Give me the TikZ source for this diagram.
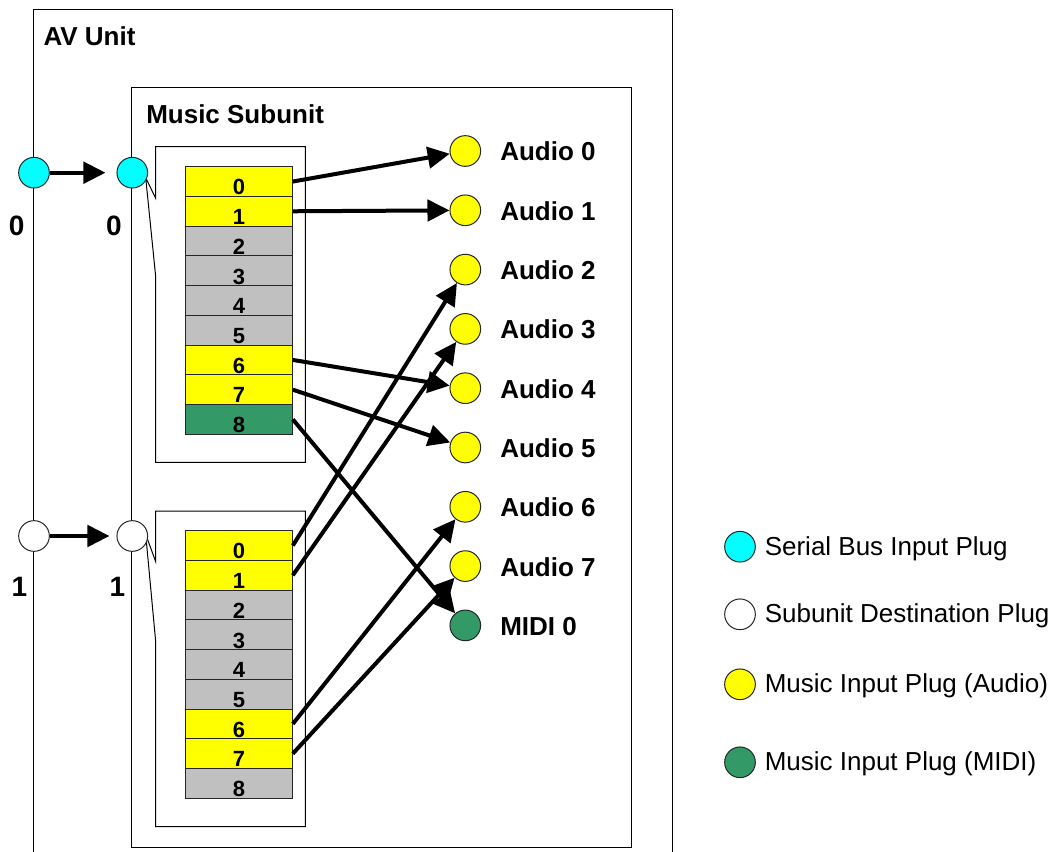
\documentclass[tikz,border=0pt]{standalone}
\usepackage{fontspec}
\setmainfont{Liberation Sans}
\usetikzlibrary{arrows.meta}
\definecolor{plugyellow}{RGB}{255,255,0}
\definecolor{pluggray}{RGB}{192,192,192}
\definecolor{midigreen}{RGB}{51,153,102}
\definecolor{buscyan}{RGB}{0,255,255}

\begin{document}
\begin{tikzpicture}[x=0.75pt,y=-0.75pt,
  frame/.style={draw=black, line width=0.75pt},
  cell/.style={draw=black!85, line width=0.75pt, minimum width=79.95pt,
    minimum height=22.3pt, inner sep=0pt, text height=20pt, text depth=0pt,
    font=\fontsize{16.5}{18}\selectfont\bfseries},
  plug/.style={circle, draw=black!85, line width=0.75pt, minimum size=23pt, inner sep=0pt},
  bigbold/.style={font=\fontsize{19.5}{22}\selectfont\bfseries, inner sep=0pt},
  plugnum/.style={font=\fontsize{21}{24}\selectfont\bfseries, inner sep=0pt, anchor=base},
  legendtxt/.style={font=\fontsize{19.5}{22}\selectfont, inner sep=0pt, anchor=base west},
  link/.style={line width=3pt, -{Triangle[length=16.5pt,width=16pt]}},
]
\useasboundingbox (0,0) rectangle (1056,852);
\clip (0,0) rectangle (1056,852);

% AV unit frame (runs off the bottom edge)
\draw[frame] (33,870) -- (33,9.3) -- (672,9.3) -- (672,870);
\node[bigbold, anchor=base west] (avlabel) at (43.3,45.7) {AV Unit};

% Music subunit frame
\draw[frame] (131.7,87.7) rectangle (631.3,847.3);
\node[bigbold, anchor=base west] (mslabel) at (146,124) {Music Subunit};

% Callout frames around the two plug stacks
\draw[frame] (155.7,198.3) -- (155.7,146.7) -- (305.3,146.7) -- (305.3,462.3)
  -- (155.7,462.3) -- (155.7,276.7) -- (145.7,177.7) -- cycle;
\draw[frame] (155.7,561.7) -- (155.7,511) -- (305.3,511) -- (305.3,826.7)
  -- (155.7,826.7) -- (155.7,641.7) -- (145.7,534.3) -- cycle;

% Stream cells of destination plug 0
\foreach \i/\c in {0/plugyellow,1/plugyellow,2/pluggray,3/pluggray,4/pluggray,
                   5/pluggray,6/plugyellow,7/plugyellow,8/midigreen}{
  \node[cell, fill=\c] (t\i) at (239,{181.55+29.73*\i}) {\i};
}
% Stream cells of destination plug 1
\foreach \i/\c in {0/plugyellow,1/plugyellow,2/pluggray,3/pluggray,4/pluggray,
                   5/pluggray,6/plugyellow,7/plugyellow,8/pluggray}{
  \node[cell, fill=\c] (b\i) at (239,{545.55+29.73*\i}) {\i};
}

% Serial bus input plugs and subunit destination plugs
\node[plug, fill=buscyan] (s0) at (34,172.7) {};
\node[plug, fill=buscyan] (d0) at (132.3,172.7) {};
\node[plug, fill=white] (s1) at (34,536) {};
\node[plug, fill=white] (d1) at (132.3,536) {};
\node[plugnum] (s0n) at (16.7,235.5) {0};
\node[plugnum] (d0n) at (114,235.5) {0};
\node[plugnum] (s1n) at (19.5,596.5) {1};
\node[plugnum] (d1n) at (117.3,596.5) {1};
\draw[link, shorten >=8.25pt] (s0) -- (d0);
\draw[link, shorten >=5.25pt] (s1) -- (d1);

% Music input plugs
\foreach \k/\c/\t in {0/plugyellow/Audio 0,1/plugyellow/Audio 1,2/plugyellow/Audio 2,
                      3/plugyellow/Audio 3,4/plugyellow/Audio 4,5/plugyellow/Audio 5,
                      6/plugyellow/Audio 6,7/plugyellow/Audio 7,8/midigreen/MIDI 0}{
  \node[plug, fill=\c] (m\k) at (465.3,{151+59.3*\k}) {};
  \node[bigbold, anchor=base west] (m\k l) at (500,{161+59.3*\k}) {\t};
}

% Stream routing
\draw[link] (t0.east) -- (m0);
\draw[link] (t1.east) -- (m1);
\draw[link] (t6.east) -- (m4);
\draw[link] (t7.east) -- (m5);
\draw[link] (t8.east) -- (m8);
\draw[link] (b0.east) -- (m2);
\draw[link] (b1.east) -- (m3);
\draw[link] (b6.east) -- (m6);
\draw[link] (b7.east) -- (m7);

% Legend
\node[plug, fill=buscyan] (k0) at (740,546.7) {};
\node[plug, fill=white] (k1) at (740,614.3) {};
\node[plug, fill=plugyellow] (k2) at (740,684.3) {};
\node[plug, fill=midigreen] (k3) at (740,762.3) {};
\node[legendtxt] (k0t) at (764.5,555.1) {Serial Bus Input Plug};
\node[legendtxt] (k1t) at (764.5,622.7) {Subunit Destination Plug};
\node[legendtxt] (k2t) at (764.5,692.7) {Music Input Plug (Audio)};
\node[legendtxt] (k3t) at (764.5,770.7) {Music Input Plug (MIDI)};
\end{tikzpicture}
\end{document}
